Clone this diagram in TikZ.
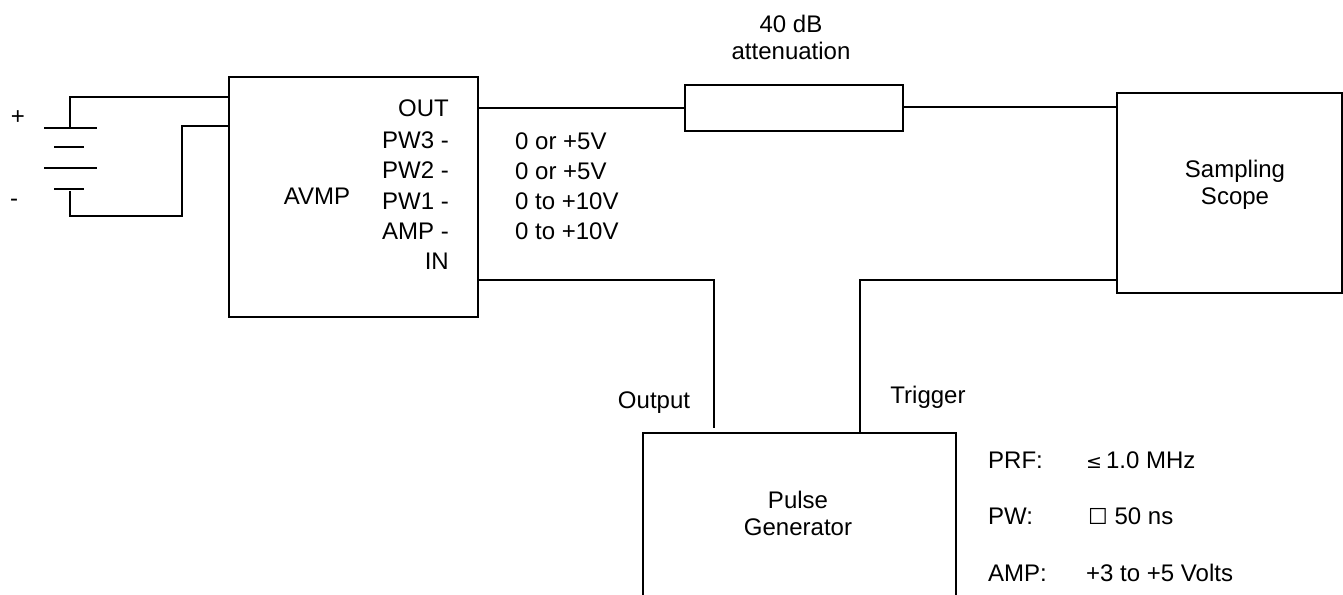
\documentclass[tikz,border=0pt]{standalone}
\usepackage{fontspec}
\setmainfont{Liberation Sans}
\newfontfamily\symfont{DejaVu Sans}
\begin{document}
\begin{tikzpicture}[x=1pt,y=-1pt,
  wire/.style={line width=1.8pt},
  box/.style={draw,line width=1.8pt,inner sep=0pt,anchor=north west},
  txt/.style={inner sep=0pt,font=\fontsize{24}{27}\selectfont},
  lab/.style={txt,align=center}]
\useasboundingbox[fill=white] (0,0) rectangle (1343,594);
% boxes
\node[box,minimum width=249pt,minimum height=240pt] (avmp) at (228,76) {};
\node[box,minimum width=218pt,minimum height=46pt] (att) at (684,84) {};
\node[box,minimum width=225pt,minimum height=200pt] (scope) at (1116,92) {};
\node[box,minimum width=313pt,minimum height=200pt] (pulse) at (642,432) {};
% labels in boxes
\node[txt] (avmpl) at (317,196) {AVMP};
\node[lab] (scopel) at (1235,185) {Sampling\\Scope};
\node[lab] (pulsel) at (798,513) {Pulse\\Generator};
\node[lab] (attl) at (791,37) {40 dB\\attenuation};
% pin labels
\foreach \t/\y [count=\i] in {OUT/108,PW3 -/140,PW2 -/170,PW1 -/201,AMP -/231,IN/261}
  \node[txt,anchor=east] (pin\i) at (449,\y) {\t};
\node[txt,anchor=west] (v1) at (515,141) {0 or +5V};
\node[txt,anchor=west] (v2) at (515,171) {0 or +5V};
\node[txt,anchor=west] (v3) at (515,201) {0 to +10V};
\node[txt,anchor=west] (v4) at (515,231) {0 to +10V};
\node[txt] (outl) at (654,403) {Output};
\node[txt] (trigl) at (928,397) {Trigger};
% specs
\node[txt,anchor=west] (s1) at (988,460) {PRF:};
\node[txt,anchor=west] (s2) at (988,516) {PW:};
\node[txt,anchor=west] (s3) at (988,573) {AMP:};
\node[txt,anchor=west] (s1v) at (1086,460) {{\symfont\fontsize{19}{22}\selectfont ≤}\,1.0 MHz};
\node[txt,anchor=west] (s2v) at (1088,516) {{\symfont\fontsize{22}{24}\selectfont ☐} 50 ns};
\node[txt,anchor=west] (s3v) at (1086,573) {+3 to +5 Volts};
% battery
\node[txt] (plus) at (18,118) {+};
\node[txt] (minus) at (14,203) {-};
\coordinate (b1) at (70,128);
\coordinate (b2) at (70,191);
\draw[wire] (44,128) -- (97,128);
\draw[wire] (54,147) -- (84,147);
\draw[wire] (44,168) -- (97,168);
\draw[wire] (54,189) -- (84,189);
% wires
\coordinate (avin1) at (228,97);
\coordinate (avin2) at (228,126);
\draw[wire] (b1) -- (70,97) -- (avin1);
\draw[wire] (b2) -- (70,216) -- (182,216) -- (182,126) -- (avin2);
\coordinate (avout) at (477,108);
\coordinate (avinp) at (477,280);
\draw[wire] (avout) -- (att.west |- avout);
\draw[wire] (att.east |- 0,107) -- (scope.west |- 0,107);
\coordinate (pout) at (714,428);
\draw[wire] (avinp) -- (714,280) -- (pout);
\coordinate (ptrig) at (860,432);
\draw[wire] (scope.west |- 0,280) -- (860,280) -- (ptrig);
\end{tikzpicture}
\end{document}
